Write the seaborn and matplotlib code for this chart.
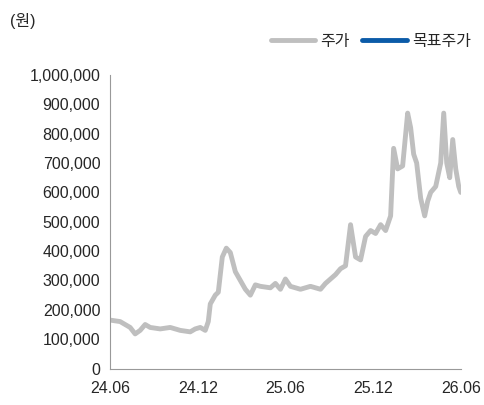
import matplotlib
matplotlib.use("Agg")
import matplotlib.pyplot as plt
import seaborn as sns
import pandas as pd
import numpy as np

sns.set_style("white")
plt.rcParams['font.family'] = ['Liberation Sans', 'Noto Sans CJK KR']

px = [110,120,125,130,135,140,145,150,160,170,180,190,195,200,205,208,210,215,218,222,226,230,235,240,245,250,255,260,270,275,280,285,290,300,310,320,325,330,335,340,345,350,355,360,365,370,375,380,385,390,393,397,402,407,410,413,416,420,424,427,430,435,440,443,446,449,452,455,458,460]
price = [165e3,160e3,150e3,140e3,118e3,130e3,150e3,140e3,135e3,140e3,130e3,125e3,135e3,140e3,130e3,160e3,220e3,250e3,260e3,380e3,410e3,395e3,330e3,300e3,270e3,250e3,285e3,280e3,275e3,290e3,270e3,305e3,280e3,270e3,280e3,270e3,290e3,305e3,320e3,340e3,350e3,490e3,380e3,370e3,450e3,470e3,460e3,490e3,470e3,520e3,750e3,680e3,690e3,870e3,820e3,730e3,700e3,580e3,520e3,570e3,600e3,620e3,700e3,870e3,700e3,650e3,780e3,680e3,620e3,600e3]
months = [(p-110)/350*24 for p in px]
tick_labels = ["24.06","24.12","25.06","25.12","26.06"]

df = pd.DataFrame({"m": months, "price": price})
fig, ax = plt.subplots(figsize=(4.85,4.05), dpi=100)
fig.subplots_adjust(left=0.227, right=0.95, top=0.815, bottom=0.09)
sns.lineplot(data=df, x="m", y="price", ax=ax, color="#BFBFBF", lw=3.5, label="주가")
ax.plot([], [], color="#0B5BA8", lw=3.5, label="목표주가")
ax.set_xlim(0, 24)
ax.set_ylim(0, 1e6)
ax.set_xticks([0,6,12,18,24]); ax.set_xticklabels(tick_labels)
ax.set_yticks(np.arange(0, 1000001, 100000))
ax.yaxis.set_major_formatter(matplotlib.ticker.FuncFormatter(lambda v,p: f"{int(v):,}"))
ax.set_xlabel(""); ax.set_ylabel("")
for s in ["top","right"]: ax.spines[s].set_visible(False)
for s in ["left","bottom"]: ax.spines[s].set_color("#999999")
ax.tick_params(axis="y", direction="out", length=4, color="#999999", labelsize=11.5, pad=3)
ax.tick_params(axis="x", direction="out", length=4, color="#999999", labelsize=11.5, pad=5)
ax.legend(loc="upper right", bbox_to_anchor=(1.07, 1.19), ncol=2, frameon=False, fontsize=11.5, handlelength=2.8, columnspacing=0.8, handletextpad=0.3)
fig.text(0.02, 0.935, "(원)", fontsize=11.5)
fig.savefig("out.png", dpi=100)
